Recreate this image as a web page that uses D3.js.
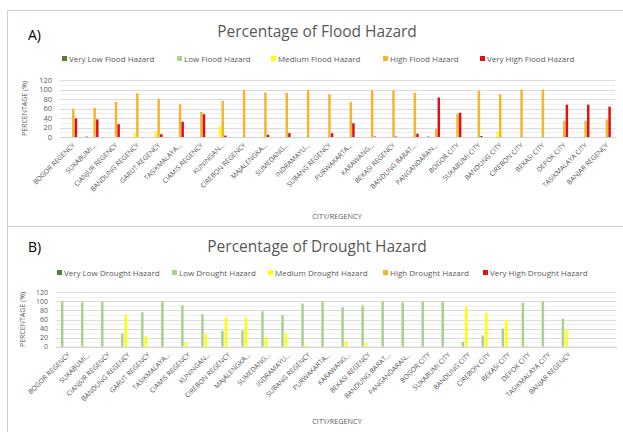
<!DOCTYPE html>
<html lang="en">
<head>
    <meta charset="UTF-8">
    <title>Flood and Drought Hazard</title>
    <script src="https://d3js.org/d3.v7.min.js"></script>
    <style>
        body { margin: 0; background: #fff; }
        svg { font-family: "Open Sans", Arial, sans-serif; }
    </style>
</head>
<body>
<script>
    // categories (x axis)
    const cities = ["BOGOR REGENCY", "SUKABUMI...", "CIANJUR REGENCY", "BANDUNG REGENCY", "GARUT REGENCY",
        "TASIKMALAYA...", "CIAMIS REGENCY", "KUNINGAN...", "CIREBON REGENCY", "MAJALENGKA...", "SUMEDANG...",
        "INDRAMAYU...", "SUBANG REGENCY", "PURWAKARTA...", "KARAWANG...", "BEKASI REGENCY", "BANDUNG BARAT...",
        "PANGANDARAN...", "BOGOR CITY", "SUKABUMI CITY", "BANDUNG CITY", "CIREBON CITY", "BEKASI CITY",
        "DEPOK CITY", "TASIKMALAYA CITY", "BANJAR REGENCY"];
    // drought chart keeps two empty slots at the end
    const droughtCities = cities.concat(["", ""]);

    const yTicks = [0, 20, 40, 60, 80, 100, 120];

    // flood hazard (%)
    const floodVeryLow  = [0, 1, 0, 0, 0, 0, 0, 0, 0, 0, 0, 0, 0, 0, 0, 0, 0, 1, 0, 0, 0, 0, 0, 0, 0, 0];
    const floodLow      = [0, 0, 0, 0, 0, 0, 0, 0, 0, 0, 0, 0, 0, 0, 0, 0, 0, 0, 0, 0, 0, 0, 0, 0, 0, 0];
    const floodMedium   = [0, 0, 0, 8, 12, 0, 0, 23, 0, 1, 0, 0, 0, 0, 0, 0, 1, 0, 0, 0, 11, 0, 0, 0, 0, 0];
    const floodHigh     = [60, 61, 74, 92, 81, 69, 53, 76, 99, 94, 93, 99, 90, 74, 98, 98, 93, 17, 49, 97, 90, 100, 100, 34, 34, 37];
    const floodVeryHigh = [39, 37, 27, 0, 6, 32, 48, 3, 0, 5, 8, 0, 8, 29, 1, 1, 7, 83, 51, 2, 0, 0, 0, 68, 68, 64];

    // drought hazard (%)
    const droughtVeryLow  = [0, 0, 0, 0, 0, 0, 0, 0, 0, 0, 0, 0, 0, 0, 0, 0, 0, 0, 0, 0, 0, 0, 0, 0, 0, 0];
    const droughtLow      = [100, 98, 100, 29, 76, 100, 91, 72, 35, 36, 78, 70, 95, 100, 87, 91, 100, 98, 100, 100, 11, 25, 40, 97, 100, 62];
    const droughtMedium   = [0, 2, 0, 70, 24, 0, 9, 28, 65, 64, 21, 30, 4, 0, 12, 8, 0, 2, 0, 0, 89, 75, 60, 3, 0, 38];
    const droughtHigh     = [0, 0, 0, 0, 0, 0, 0, 0, 0, 0, 0, 0, 0, 0, 0, 0, 0, 0, 0, 0, 0, 0, 0, 0, 0, 0];
    const droughtVeryHigh = [0, 0, 0, 0, 0, 0, 0, 0, 0, 0, 0, 0, 0, 0, 0, 0, 0, 0, 0, 0, 0, 0, 0, 0, 0, 0];

    const colors = ["#548235", "#a9d18e", "#ffff00", "#f5b52e", "#dc1218"];
    const textColor = "#595959";

    const svg = d3.select("body").append("svg")
        .attr("width", 623)
        .attr("height", 432);

    svg.append("rect").attr("width", 623).attr("height", 432).attr("fill", "#fff");

    // frame lines
    const frame = svg.append("g").attr("stroke", "#cfcfcf").attr("stroke-width", 1);
    frame.append("line").attr("x1", 7).attr("x2", 623).attr("y1", 10.5).attr("y2", 10.5);
    frame.append("line").attr("x1", 7).attr("x2", 623).attr("y1", 226.5).attr("y2", 226.5);
    frame.append("line").attr("x1", 7.5).attr("x2", 7.5).attr("y1", 10).attr("y2", 432);

    function drawPanel(p) {
        const g = svg.append("g");

        g.append("text").attr("x", 28).attr("y", p.letterY)
            .attr("font-size", 14).attr("fill", "#000").text(p.letter);

        g.append("text").attr("x", 317).attr("y", p.titleY)
            .attr("text-anchor", "middle").attr("font-size", 15.5)
            .attr("fill", textColor).text(p.title);

        // legend
        const leg = g.append("g").attr("font-size", 8).attr("fill", textColor);
        p.series.forEach((s, i) => {
            leg.append("rect").attr("x", p.legendX[i]).attr("y", p.legendY - 3)
                .attr("width", 5).attr("height", 5).attr("fill", colors[i]);
            leg.append("text").attr("x", p.legendX[i] + 7).attr("y", p.legendY + 2.5).text(s.name);
        });

        const x = d3.scaleBand().domain(d3.range(p.labels.length)).range([p.x0, p.x1]);
        const inner = d3.scaleBand().domain(d3.range(5))
            .range([-p.groupW / 2, p.groupW / 2]).paddingInner(p.barPad);
        const y = d3.scaleLinear().domain([0, 120]).range([p.y0, p.y1]);

        // gridlines
        g.append("g").selectAll("line").data(d3.range(10, 120, 20)).join("line")
            .attr("x1", p.x0).attr("x2", p.x1)
            .attr("y1", d => Math.round(y(d)) + 0.5).attr("y2", d => Math.round(y(d)) + 0.5)
            .attr("stroke", "#f0f0f0");
        g.append("g").selectAll("line").data(yTicks).join("line")
            .attr("x1", p.x0).attr("x2", p.x1)
            .attr("y1", d => Math.round(y(d)) + 0.5).attr("y2", d => Math.round(y(d)) + 0.5)
            .attr("stroke", "#dcdcdc");

        // bars
        p.series.forEach((s, si) => {
            g.append("g").attr("fill", colors[si]).selectAll("rect")
                .data(s.values.map((v, i) => ({ i, v })).filter(d => d.v > 0))
                .join("rect")
                .attr("x", d => x(d.i) + x.bandwidth() / 2 + inner(si))
                .attr("width", inner.bandwidth())
                .attr("y", d => y(d.v))
                .attr("height", d => y(0) - y(d.v));
        });

        // y axis
        const ya = g.append("g").attr("transform", `translate(${p.yLabelX},0)`)
            .call(d3.axisLeft(y).tickValues(yTicks).tickSize(0).tickPadding(0));
        ya.select(".domain").remove();
        ya.selectAll("text").attr("font-size", p.tickFont).attr("fill", textColor)
            .attr("font-family", "Open Sans");

        // x axis
        const xa = g.append("g").attr("transform", `translate(0,${p.y0})`)
            .call(d3.axisBottom(x).tickSize(0).tickFormat(i => p.labels[i]));
        xa.select(".domain").attr("stroke", "#d0d0d0");
        xa.selectAll("text")
            .attr("font-size", 6.8).attr("fill", "#505050").attr("font-family", "Open Sans")
            .attr("text-anchor", "end")
            .attr("dy", "0.35em").attr("y", 0)
            .attr("transform", "translate(3,7) rotate(-45)");

        g.append("text")
            .attr("transform", `translate(${p.yTitleX},${(p.y0 + p.y1) / 2}) rotate(-90)`)
            .attr("text-anchor", "middle").attr("font-size", 7).attr("fill", textColor)
            .text("PERCENTAGE (%)");

        g.append("text").attr("x", 337).attr("y", p.xTitleY)
            .attr("text-anchor", "middle").attr("font-size", 7.3).attr("fill", textColor)
            .text("CITY/REGENCY");
    }

    drawPanel({
        letter: "A)", letterY: 40, title: "Percentage of Flood Hazard", titleY: 37,
        legendY: 59, legendX: [62, 177, 271, 383, 480],
        series: [
            { name: "Very Low Flood Hazard", values: floodVeryLow },
            { name: "Low Flood Hazard", values: floodLow },
            { name: "Medium Flood Hazard", values: floodMedium },
            { name: "High Flood Hazard", values: floodHigh },
            { name: "Very High Flood Hazard", values: floodVeryHigh }
        ],
        labels: cities, x0: 60, x1: 615, y0: 137, y1: 80,
        groupW: 13, barPad: 0.05, yLabelX: 52, yTitleX: 27, xTitleY: 219, tickFont: 7.5
    });

    drawPanel({
        letter: "B)", letterY: 252, title: "Percentage of Drought Hazard", titleY: 252,
        legendY: 273, legendX: [57, 172, 268, 383, 483],
        series: [
            { name: "Very Low Drought Hazard", values: droughtVeryLow },
            { name: "Low Drought Hazard", values: droughtLow },
            { name: "Medium Drought Hazard", values: droughtMedium },
            { name: "High Drought Hazard", values: droughtHigh },
            { name: "Very High Drought Hazard", values: droughtVeryHigh }
        ],
        labels: droughtCities, x0: 55.7, x1: 616.5, y0: 346.7, y1: 292.3,
        groupW: 16.5, barPad: 0.3, yLabelX: 48, yTitleX: 25, xTitleY: 424, tickFont: 7
    });
</script>
</body>
</html>
